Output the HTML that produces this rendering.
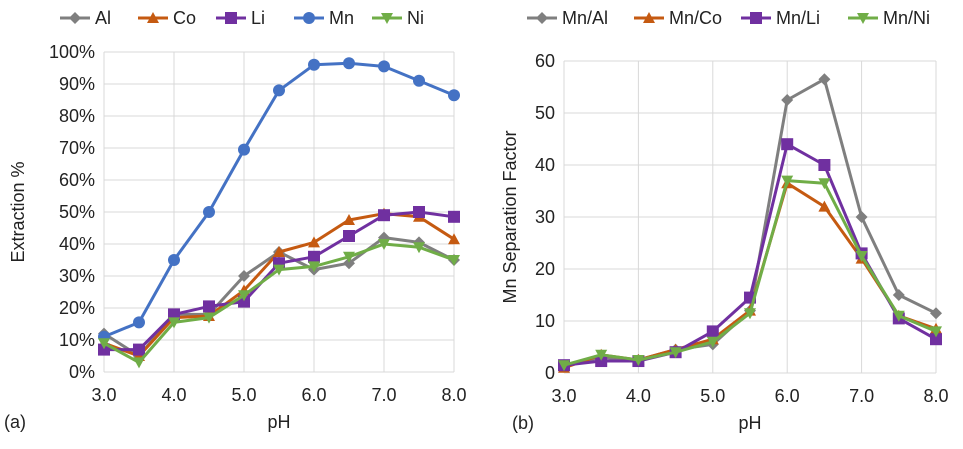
<!DOCTYPE html>
<html><head><meta charset="utf-8"><style>
body{margin:0;background:#fff;}
svg{font-family:"Liberation Sans",Arial,sans-serif;}
</style></head><body>
<svg id="s" width="963" height="444" viewBox="0 0 963 444"></svg>
<script>
const pH=[3.0,3.5,4.0,4.5,5.0,5.5,6.0,6.5,7.0,7.5,8.0];
const xTicks=[3.0,4.0,5.0,6.0,7.0,8.0];
const aNames=["Al","Co","Li","Mn","Ni"];
const aAl=[12,5,18,18,30,37.5,32,34,42,40.5,35];
const aCo=[9,5,17,17.5,25.5,37.5,40.5,47.5,49.5,48.5,41.5];
const aLi=[7,7,18,20.5,22,34,36,42.5,49,50,48.5];
const aMn=[11,15.5,35,50,69.5,88,96,96.5,95.5,91,86.5];
const aNi=[9,3,15.5,17,24,32,33,36,40,39,35];
const aTicks=[0,10,20,30,40,50,60,70,80,90,100];
const bNames=["Mn/Al","Mn/Co","Mn/Li","Mn/Ni"];
const bAl=[1.5,3,2.5,4.5,5.5,12,52.5,56.5,30,15,11.5];
const bCo=[1,3.5,2.5,4.5,6.5,12,36.5,32,22,11,8.5];
const bLi=[1.5,2.3,2.3,4,8,14.5,44,40,23,10.5,6.5];
const bNi=[1.5,3.5,2.5,4,6,11.5,37,36.5,22.5,11,8];
const bTicks=[0,10,20,30,40,50,60];

const NS="http://www.w3.org/2000/svg",svg=document.getElementById('s');
const FS=18;
function el(t,a,p){const e=document.createElementNS(NS,t);for(const k in a)e.setAttribute(k,a[k]);(p||svg).appendChild(e);return e;}
const COL={gray:"#7f7f7f",orange:"#c55a11",purple:"#7030a0",blue:"#4472c4",green:"#70ad47"};
function marker(g,type,x,y,c){
  let m;
  if(type==="diamond")m=el('polygon',{points:`${x},${y-6} ${x+6},${y} ${x},${y+6} ${x-6},${y}`,fill:c},g);
  else if(type==="tri")m=el('polygon',{points:`${x},${y-6} ${x+6},${y+5} ${x-6},${y+5}`,fill:c},g);
  else if(type==="square")m=el('rect',{x:x-6,y:y-6,width:12,height:12,fill:c},g);
  else if(type==="circle")m=el('circle',{cx:x,cy:y,r:6,fill:c},g);
  else m=el('polygon',{points:`${x-6},${y-5} ${x+6},${y-5} ${x},${y+6}`,fill:c},g);
  
  
}
function chart(cfg){
  const X=v=>cfg.x0+(v-3)/5*(cfg.x1-cfg.x0);
  const Y=v=>cfg.y0-(v/cfg.ymax)*(cfg.y0-cfg.y1);
  const g=el('g',{});
  
  
  cfg.yt.forEach(t=>{
    el('line',{x1:cfg.x0,x2:cfg.x1,y1:Y(t),y2:Y(t),stroke:"#d9d9d9","stroke-width":1},g);
    const tx=el('text',{x:cfg.x0-9,y:Y(t)+6,"text-anchor":"end","font-size":FS,fill:"#222"},g);
    tx.textContent=cfg.fmt(t);
    
    
  });
  xTicks.forEach(t=>{
    el('line',{x1:X(t),x2:X(t),y1:cfg.y1,y2:cfg.y0,stroke:"#d9d9d9","stroke-width":1},g);
    const tx=el('text',{x:X(t),y:cfg.y0+29,"text-anchor":"middle","font-size":FS,fill:"#222"},g);
    tx.textContent=t.toFixed(1);
    
    
  });
  const xt=el('text',{x:(cfg.x0+cfg.x1)/2,y:cfg.y0+56,"text-anchor":"middle","font-size":FS,fill:"#222"},g);
  xt.textContent="pH";
  const yt=el('text',{x:0,y:0,transform:`translate(${cfg.ytx},${(cfg.y0+cfg.y1)/2}) rotate(-90)`,"text-anchor":"middle","font-size":FS,fill:"#222"},g);
  yt.textContent=cfg.ytitle;
  const pl=el('text',{x:cfg.plx,y:cfg.y0+56,"font-size":FS,fill:"#222"},g);
  pl.textContent=cfg.panel;
  cfg.series.forEach((s,i)=>{
    const sg=el('g',{},g);
    
    
    el('polyline',{points:s.d.map((v,j)=>X(pH[j])+","+Y(v)).join(" "),fill:"none",stroke:s.c,"stroke-width":3,"stroke-linejoin":"round"},sg);
    s.d.forEach((v,j)=>marker(sg,s.m,X(pH[j]),Y(v),s.c));
    const lx=cfg.lx+i*cfg.ls;
    const lg=el('g',{},g);
    
    
    el('line',{x1:lx,x2:lx+30,y1:18,y2:18,stroke:s.c,"stroke-width":3},lg);
    marker(lg,s.m,lx+15,18,s.c);
    const t=el('text',{x:lx+35,y:24,"font-size":FS,fill:"#222"},lg);t.textContent=s.n;
  });
}
chart({name:"chart-a",x0:104,x1:454,y0:372,y1:52,ymax:100,yt:aTicks,fmt:t=>t+"%",ytitle:"Extraction %",ytx:24,panel:"(a)",plx:4,lx:60,ls:78,
 series:[{n:"Al",d:aAl,c:COL.gray,m:"diamond"},{n:"Co",d:aCo,c:COL.orange,m:"tri"},{n:"Li",d:aLi,c:COL.purple,m:"square"},{n:"Mn",d:aMn,c:COL.blue,m:"circle"},{n:"Ni",d:aNi,c:COL.green,m:"inv"}]});
chart({name:"chart-b",x0:564,x1:936,y0:373,y1:61,ymax:60,yt:bTicks,fmt:t=>""+t,ytitle:"Mn Separation Factor",ytx:516,panel:"(b)",plx:512,lx:527,ls:107,
 series:[{n:"Mn/Al",d:bAl,c:COL.gray,m:"diamond"},{n:"Mn/Co",d:bCo,c:COL.orange,m:"tri"},{n:"Mn/Li",d:bLi,c:COL.purple,m:"square"},{n:"Mn/Ni",d:bNi,c:COL.green,m:"inv"}]});
</script>
</body></html>
